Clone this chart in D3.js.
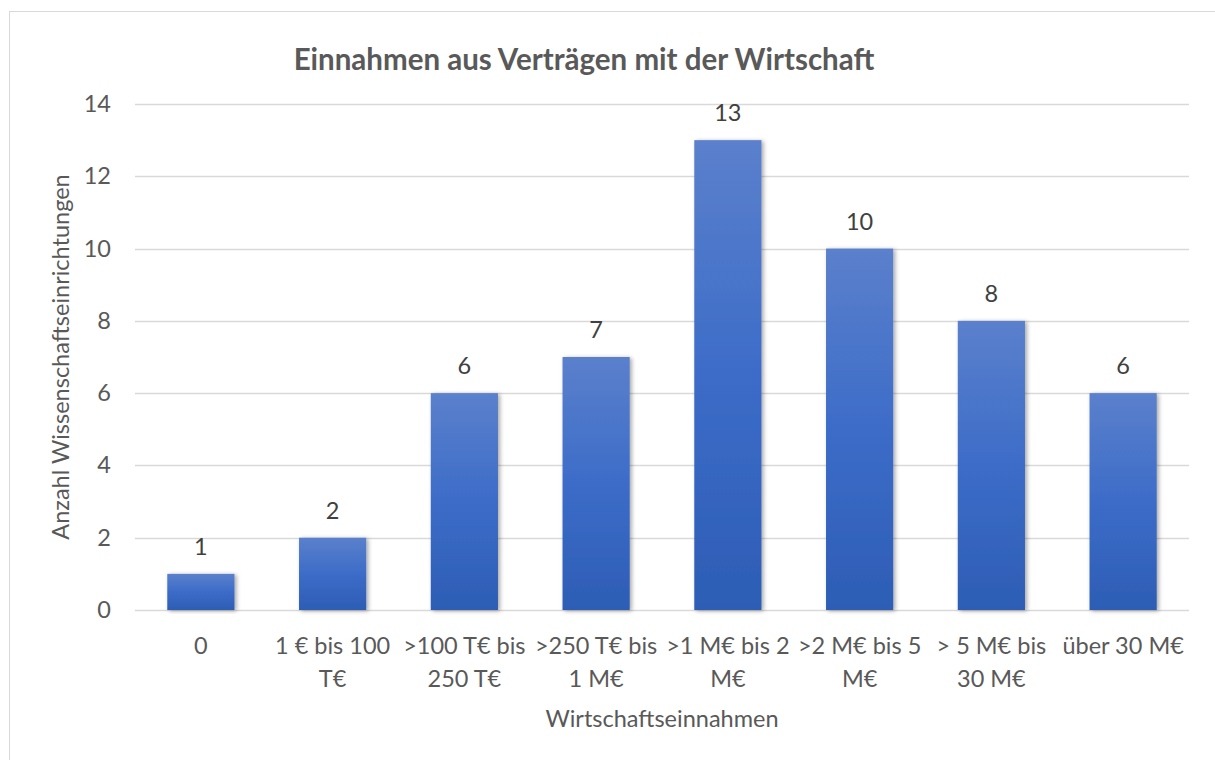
<!DOCTYPE html>
<html>
<head>
<meta charset="utf-8">
<script src="https://cdn.jsdelivr.net/npm/d3@7"></script>
<style>
  body { margin: 0; background: #fff; }
  text { font-family: Lato, "Open Sans", sans-serif; }
</style>
</head>
<body>
<div id="chart"></div>
<script>
// Data
const CATEGORIES = ["0", "1 € bis 100 T€", ">100 T€ bis 250 T€", ">250 T€ bis 1 M€",
                    ">1 M€ bis 2 M€", ">2 M€ bis 5 M€", "> 5 M€ bis 30 M€", "über 30 M€"];
const LABEL_LINES = [["0"], ["1 € bis 100", "T€"], [">100 T€ bis", "250 T€"], [">250 T€ bis", "1 M€"],
                     [">1 M€ bis 2", "M€"], [">2 M€ bis 5", "M€"], ["> 5 M€ bis", "30 M€"], ["über 30 M€"]];
const VALUES = [1, 2, 6, 7, 13, 10, 8, 6];
const Y_TICKS = [0, 2, 4, 6, 8, 10, 12, 14];

// Constants
const FRAME_WIDTH = 1215;
const FRAME_HEIGHT = 760;
const MARGINS = {left: 135, right: 26, top: 104, bottom: 150};
const VIS_WIDTH = FRAME_WIDTH - MARGINS.left - MARGINS.right;
const VIS_HEIGHT = FRAME_HEIGHT - MARGINS.top - MARGINS.bottom;
const FONT_SIZE = "23.5px";

const data = CATEGORIES.map((c, i) => ({cat: c, value: VALUES[i], lines: LABEL_LINES[i]}));

const FRAME = d3.select("#chart")
                .append("svg")
                  .attr("width", FRAME_WIDTH)
                  .attr("height", FRAME_HEIGHT);

// chart border
FRAME.append("rect")
      .attr("x", 9.5).attr("y", 11.5)
      .attr("width", 1220).attr("height", 760)
      .attr("fill", "#fff")
      .attr("stroke", "#d9d9d9");

const defs = FRAME.append("defs");
const grad = defs.append("linearGradient")
                  .attr("id", "barGrad")
                  .attr("x1", 0).attr("y1", 0).attr("x2", 0).attr("y2", 1);
grad.append("stop").attr("offset", "0%").attr("stop-color", "#5b80cc");
grad.append("stop").attr("offset", "50%").attr("stop-color", "#3c6cc8");
grad.append("stop").attr("offset", "100%").attr("stop-color", "#2d5db5");

const shadow = defs.append("filter").attr("id", "shadow")
                    .attr("x", "-20%").attr("y", "-10%").attr("width", "140%").attr("height", "120%");
shadow.append("feDropShadow")
      .attr("dx", 2).attr("dy", 1).attr("stdDeviation", 2)
      .attr("flood-color", "#000").attr("flood-opacity", 0.35);

const X_SCALE = d3.scaleBand()
                  .domain(CATEGORIES)
                  .range([0, VIS_WIDTH])
                  .paddingInner(0.49)
                  .paddingOuter(0.245);

const Y_SCALE = d3.scaleLinear()
                  .domain([0, 14])
                  .range([VIS_HEIGHT, 0]);

const g = FRAME.append("g")
               .attr("transform", "translate(" + MARGINS.left + "," + MARGINS.top + ")");

// Gridlines
g.append("g")
  .selectAll("line")
  .data(Y_TICKS)
  .enter()
  .append("line")
    .attr("x1", 0).attr("x2", VIS_WIDTH)
    .attr("y1", d => Math.round(Y_SCALE(d)) + 0.5)
    .attr("y2", d => Math.round(Y_SCALE(d)) + 0.5)
    .attr("stroke", "#d9d9d9")
    .attr("stroke-width", 1.3);

// Y axis labels
const yAxis = g.append("g")
               .call(d3.axisLeft(Y_SCALE).tickValues(Y_TICKS).tickSize(0).tickPadding(24));
yAxis.select(".domain").remove();
yAxis.selectAll("text")
     .attr("font-size", FONT_SIZE)
     .attr("fill", "#595959")
     .style("font-family", "Lato, 'Open Sans', sans-serif");

// Bars
g.selectAll(".bar")
  .data(data)
  .enter()
  .append("rect")
    .attr("class", "bar")
    .attr("x", d => X_SCALE(d.cat))
    .attr("width", X_SCALE.bandwidth())
    .attr("y", d => Y_SCALE(d.value))
    .attr("height", d => VIS_HEIGHT - Y_SCALE(d.value))
    .attr("fill", "url(#barGrad)")
    .attr("filter", "url(#shadow)");

// Value labels
g.selectAll(".val")
  .data(data)
  .enter()
  .append("text")
    .attr("class", "val")
    .attr("x", d => X_SCALE(d.cat) + X_SCALE.bandwidth() / 2)
    .attr("y", d => Y_SCALE(d.value) - 19)
    .attr("text-anchor", "middle")
    .attr("font-size", FONT_SIZE)
    .attr("fill", "#404040")
    .text(d => d.value);

// X labels (wrapped)
const xl = g.selectAll(".xlab")
  .data(data)
  .enter()
  .append("text")
    .attr("class", "xlab")
    .attr("text-anchor", "middle")
    .attr("font-size", FONT_SIZE)
    .attr("fill", "#595959")
    .attr("x", d => X_SCALE(d.cat) + X_SCALE.bandwidth() / 2)
    .attr("y", VIS_HEIGHT + 44);
xl.selectAll("tspan")
  .data(d => d.lines.map(l => ({l: l, x: X_SCALE(d.cat) + X_SCALE.bandwidth() / 2})))
  .enter()
  .append("tspan")
    .attr("x", d => d.x)
    .attr("dy", (d, i) => i === 0 ? 0 : 33)
    .text(d => d.l);

// Axis titles
FRAME.append("text")
      .attr("x", MARGINS.left + VIS_WIDTH / 2)
      .attr("y", 727)
      .attr("text-anchor", "middle")
      .attr("font-size", FONT_SIZE)
      .attr("fill", "#595959")
      .text("Wirtschaftseinnahmen");

FRAME.append("text")
      .attr("transform", "translate(69," + (MARGINS.top + VIS_HEIGHT / 2) + ") rotate(-90)")
      .attr("text-anchor", "middle")
      .attr("font-size", FONT_SIZE)
      .attr("fill", "#595959")
      .text("Anzahl Wissenschaftseinrichtungen");

// Title
FRAME.append("text")
      .attr("x", 584)
      .attr("y", 70)
      .attr("text-anchor", "middle")
      .attr("font-size", "29.5px")
      .attr("font-weight", "bold")
      .attr("fill", "#595959")
      .text("Einnahmen aus Verträgen mit der Wirtschaft");
</script>
</body>
</html>
